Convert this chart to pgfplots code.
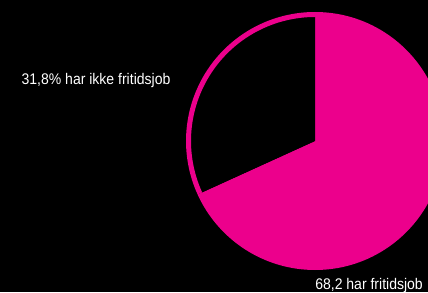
\documentclass[border=0pt]{standalone}
\usepackage{pgfplots}
\usepackage{pgfplotstable}
\pgfplotsset{compat=1.18}
\usepackage{fontspec}
\setmainfont{Liberation Sans}
\definecolor{pinkfill}{RGB}{236,0,140}
\pgfplotstableread{
label value
har 68.2
ikke 31.8
}\piedata
\begin{document}
\begin{tikzpicture}
\pgfplotstablegetelem{0}{value}\of\piedata \let\va\pgfplotsretval
\pgfmathsetmacro\ea{90-3.6*\va}
\clip (0,0) rectangle (428pt,292pt);
\fill[black] (0,0) rectangle (428pt,292pt);
\begin{axis}[
  at={(0,0)}, anchor=south west,
  x=1pt, y=1pt,
  xmin=0, xmax=428, ymin=0, ymax=292,
  hide axis, clip=false,
]
\fill[pinkfill] (axis cs:315,151) -- (axis cs:315,280) arc[start angle=90, end angle=\ea, radius=129pt] -- cycle;
\fill[black] (axis cs:315,151) -- ++(\ea:124pt) arc[start angle=\ea, end angle=-270, radius=124pt] -- cycle;
\draw[pinkfill, line width=5pt] (axis cs:315,151) ++(\ea:126.5pt) arc[start angle=\ea, end angle=-270, radius=126.5pt];
\node[text=white, anchor=base, inner sep=0pt, font=\fontsize{15.4}{18}\selectfont] at (axis cs:96,207) {\scalebox{0.91}[1]{31,8\% har ikke fritidsjob}};
\node[text=white, anchor=base east, inner sep=0pt, font=\fontsize{15.4}{18}\selectfont] at (axis cs:423,3) {\scalebox{0.91}[1]{68,2 har fritidsjob}};
\end{axis}
\end{tikzpicture}
\end{document}
